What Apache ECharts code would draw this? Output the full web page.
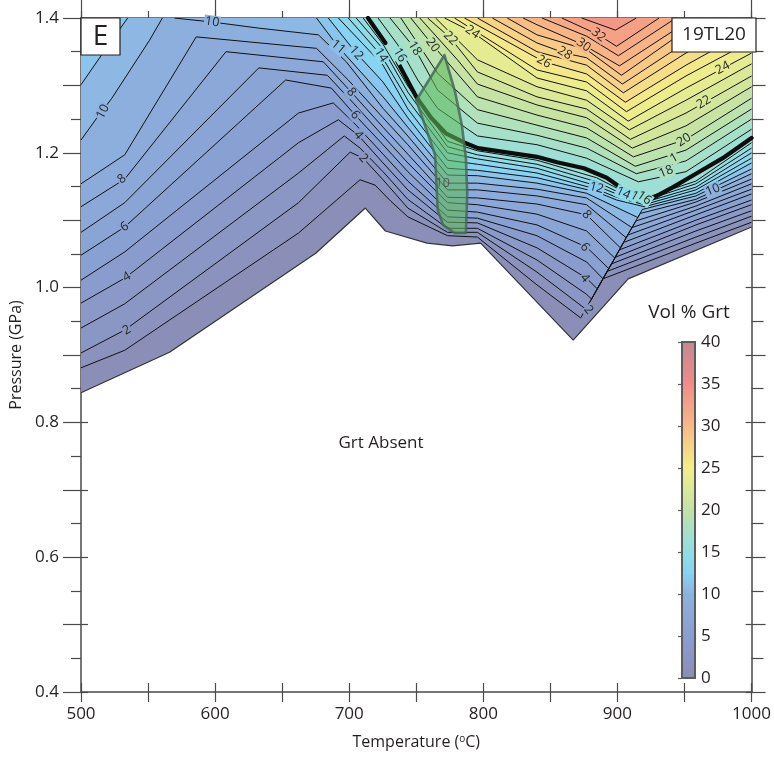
<!DOCTYPE html>
<html><head><meta charset="utf-8">
<script src="https://cdn.jsdelivr.net/npm/echarts@6/dist/echarts.min.js"></script>
<style>html,body{margin:0;padding:0;background:#fff}#c{width:774px;height:758px}</style>
</head><body><div id="c"></div>
<script>
// ---------- data (T in °C, P in GPa) ----------
const tempRange = [500, 1000];
const presRange = [0.4, 1.4];
const colorbarRange = [0, 40];
const colorbarTicks = [0, 5, 10, 15, 20, 25, 30, 35, 40];

const garnetIn = [[500,0.844],[566,0.904],[675,1.051],[712,1.118],[727,1.084],[758,1.066],[777,1.062],[798,1.066],[867,0.922],[908,1.013],[1000,1.090]];

const thickA = [[714,1.400],[727,1.363]];
const thickB = [[736,1.335],[750,1.283],[761,1.252],[772,1.229],[786,1.215],[796,1.207],[840,1.194],[855,1.186],[875,1.177],[892,1.163],[907,1.142]];
const thickC = [[920,1.126],[941.5,1.149],[958.5,1.169],[978.5,1.192],[1000,1.222]];

const greenField = [[771,1.345],[750,1.278],[764,1.197],[766,1.115],[770,1.093],[778.5,1.081],[787,1.081],[788,1.140],[787,1.192],[784,1.241],[779,1.290]];

const c1 = [[500,0.881],[532.6,0.907],[662.2,1.081],[708.1,1.160],[719.3,1.152],[731.1,1.128],[743.7,1.105],[773.3,1.077],[795.6,1.075],[840,1.004],[872.6,0.955],[889.2,1.013],[958.5,1.066],[1000,1.097]];
const c2 = [[500,0.903],[532.6,0.937],[662.2,1.126],[700.7,1.201],[710.4,1.192],[725.2,1.160],[743.7,1.118],[773.3,1.082],[795.6,1.082],[840,1.023],[876.4,0.968],[892.3,1.024],[958.5,1.075],[1000,1.106]];
const c3 = [[500,0.940],[532.6,0.976],[662.2,1.170],[696.3,1.225],[708.1,1.207],[725.2,1.172],[743.7,1.131],[773.3,1.088],[795.6,1.088],[840,1.041],[877,0.990],[880.7,0.983],[895.3,1.035],[958.5,1.084],[1000,1.114]];
const c4 = [[500,0.977],[532.6,1.014],[662.2,1.215],[691.9,1.249],[706.7,1.226],[725.2,1.185],[743.7,1.145],[773.3,1.097],[795.6,1.096],[840,1.059],[877,1.014],[885,0.998],[898.4,1.045],[958.5,1.093],[1000,1.123]];
const c5 = [[500,1.011],[532.6,1.053],[662.2,1.259],[688.1,1.274],[705.2,1.241],[725.2,1.198],[743.7,1.158],[773.3,1.105],[795.6,1.103],[840,1.077],[877,1.038],[889.3,1.013],[901.5,1.056],[958.5,1.100],[1000,1.130]];
const c6 = [[500,1.048],[532.6,1.090],[652.6,1.308],[686.7,1.296],[704.4,1.256],[725.2,1.212],[743.7,1.172],[773.3,1.115],[795.6,1.112],[840,1.093],[877,1.060],[893.6,1.028],[904.6,1.067],[958.5,1.108],[1000,1.139]];
const c7 = [[500,1.082],[532.6,1.126],[632.6,1.326],[683.7,1.315],[703,1.274],[725.2,1.225],[743.7,1.185],[773.3,1.126],[795.6,1.123],[840,1.109],[877,1.084],[897.9,1.044],[907.7,1.078],[958.5,1.115],[1000,1.146]];
const c8 = [[500,1.120],[532.6,1.161],[608.1,1.350],[680.7,1.335],[701.5,1.290],[725.2,1.238],[743.7,1.198],[773.3,1.134],[795.6,1.133],[840,1.124],[877,1.108],[902.2,1.059],[910.7,1.089],[958.5,1.121],[1000,1.154]];
const c9 = [[500,1.154],[532.6,1.197],[585.9,1.372],[675.6,1.355],[699.3,1.308],[725.2,1.252],[743.7,1.212],[773.3,1.145],[795.6,1.145],[840,1.136],[877,1.123],[906.5,1.074],[913.9,1.099],[958.5,1.127],[1000,1.161]];
const c10a = [[500,1.219],[511.9,1.252],[523,1.281],[551.1,1.367],[560.7,1.400]];
const c10b = [[569.6,1.400],[597.8,1.394],[632.6,1.385],[677,1.375],[697.8,1.335],[725.2,1.266],[743.7,1.225],[773.3,1.155],[795.6,1.155],[840,1.146],[877,1.133],[910.8,1.089],[916.9,1.110],[958.5,1.131],[1000,1.169]];
const c11a = [[500,1.301],[516.3,1.348],[534.8,1.400]];
const c11b = [[675.6,1.400],[691.9,1.357],[725.2,1.283],[743.7,1.238],[773.3,1.167],[795.6,1.166],[840,1.155],[877,1.140],[915.2,1.104],[918.6,1.116],[958.5,1.136],[1000,1.176]];
const c12 = [[684.4,1.400],[705.2,1.348],[725.2,1.305],[743.7,1.252],[773.3,1.177],[795.6,1.174],[840,1.163],[884.4,1.142],[899.3,1.130],[920,1.120],[958.5,1.140],[1000,1.185]];
const c13 = [[691.9,1.400],[725.2,1.330],[743.7,1.265],[773.3,1.189],[795.6,1.183],[840,1.170],[884.4,1.146],[899.3,1.134],[920,1.123],[958.5,1.145],[1000,1.192]];
const c14 = [[699.3,1.400],[723.7,1.345],[743.7,1.278],[773.3,1.200],[795.6,1.191],[840,1.177],[884.4,1.151],[899.3,1.139],[919.3,1.126],[958.5,1.149],[1000,1.200]];
const c15 = [[705.2,1.400],[725.2,1.354],[743.7,1.290],[773.3,1.209],[795.6,1.197],[840,1.183],[884.4,1.157],[899.3,1.143],[918.5,1.128],[958.5,1.154],[1000,1.207]];
const c16 = [[710.4,1.400],[725.2,1.361],[743.7,1.299],[773.3,1.217],[795.6,1.203],[840,1.189],[884.4,1.163],[899.3,1.148],[917.8,1.131],[958.5,1.158],[1000,1.215]];
const c17 = [[721.5,1.400],[736.3,1.360],[751.1,1.308],[765.9,1.266],[795.6,1.225],[840,1.212],[877,1.192],[915.6,1.157],[951.1,1.172],[1000,1.235]];
const c18 = [[730.4,1.400],[748.9,1.355],[765.9,1.293],[795.6,1.244],[840,1.226],[877,1.207],[914.1,1.169],[951.1,1.188],[1000,1.250]];
const c19 = [[738.5,1.400],[765.9,1.318],[795.6,1.264],[840,1.241],[877,1.222],[913.3,1.180],[951.1,1.204],[1000,1.265]];
const c20 = [[745.9,1.400],[762.2,1.360],[795.6,1.283],[840,1.256],[877,1.237],[911.9,1.194],[951.1,1.220],[1000,1.281]];
const c21 = [[752.6,1.400],[780.7,1.338],[795.6,1.302],[840,1.271],[877,1.252],[911.1,1.207],[951.1,1.240],[1000,1.298]];
const c22 = [[758.5,1.400],[775.6,1.370],[795.6,1.320],[840,1.283],[877,1.265],[909.6,1.220],[951.1,1.259],[1000,1.314]];
const c23 = [[764.4,1.400],[795.6,1.338],[840,1.298],[877,1.278],[908.9,1.234],[951.1,1.278],[1000,1.332]];
const c24 = [[771.1,1.400],[791.9,1.379],[840,1.311],[877,1.292],[908.1,1.247],[951.1,1.296],[1000,1.348]];
const c25 = [[778.5,1.400],[840,1.323],[877,1.305],[906.7,1.261],[951.1,1.314],[1000,1.366]];
const c26 = [[785.9,1.400],[845.2,1.335],[877,1.317],[905.9,1.275],[951.1,1.330],[1000,1.384]];
const c27 = [[795.6,1.400],[840,1.350],[877,1.330],[904.4,1.289],[951.1,1.348],[998.5,1.400]];
const c28 = [[806.7,1.400],[840,1.363],[860.7,1.348],[877,1.341],[903.7,1.302],[951.1,1.364],[983.7,1.400]];
const c29 = [[817.8,1.400],[840,1.375],[877,1.353],[903,1.315],[951.1,1.382],[967.4,1.400]];
const c30 = [[829.6,1.400],[840,1.390],[874.8,1.360],[901.5,1.329],[956.3,1.400]];
const c31 = [[843.7,1.400],[877,1.373],[900.7,1.344],[943.7,1.400]];
const c32 = [[858.5,1.400],[885.9,1.375],[899.3,1.358],[931.1,1.400]];
const c33 = [[873.3,1.400],[898.5,1.382],[914.1,1.400]];

// isopleth level of each polyline (value is >= level on the upper/left side)
const contourLevels = [0,1,2,3,4,5,6,7,8,9,10,10,11,11,12,13,14,15,16,17,18,19,20,21,22,23,24,25,26,27,28,29,30,31,32,33];
const contourLines = [garnetIn,c1,c2,c3,c4,c5,c6,c7,c8,c9,c10a,c10b,c11a,c11b,c12,c13,c14,c15,c16,c17,c18,c19,c20,c21,c22,c23,c24,c25,c26,c27,c28,c29,c30,c31,c32,c33];

const contourLabels = [
 [516.3,1.261,'10'],[530.4,1.161,'8'],[532.6,1.090,'6'],[534.1,1.016,'4'],[534.1,0.937,'2'],
 [597.8,1.394,'10'],
 [701.5,1.290,'8'],[704.4,1.256,'6'],[706.7,1.226,'4'],[710.4,1.192,'2'],
 [691.9,1.357,'11'],[705.2,1.348,'12'],[723.7,1.345,'14'],[737.8,1.345,'16'],[748.9,1.355,'18'],[762.2,1.360,'20'],[775.6,1.370,'22'],[791.9,1.379,'24'],
 [845.2,1.335,'26'],[860.7,1.348,'28'],[874.8,1.360,'30'],[885.9,1.375,'32'],
 [978.5,1.326,'24'],[964.4,1.275,'22'],[949.6,1.219,'20'],[942.2,1.192,'1'],[936.3,1.172,'18'],[971.1,1.145,'10'],
 [884.4,1.148,'12'],[904.4,1.140,'14'],[912.6,1.136,'1'],[920,1.133,'16'],
 [877,1.108,'8'],[875.6,1.060,'6'],[875.6,1.014,'4'],[878.5,0.967,'2'],
 [769.6,1.155,'10']
];
const contourLabelLevels = [10,8,6,4,2,10,8,6,4,2,11,12,14,16,18,20,22,24,26,28,30,32,24,22,20,19,18,10,12,14,15,16,8,6,4,2,-1];
const contourLabelAngles = [62,38,32,30,30,-8,-50,-50,-50,-50,-40,-48,-58,-60,-58,-55,-45,-35,-28,-30,-35,-38,28,30,32,30,22,22,-15,-25,-30,-35,-50,-50,-50,-50,-3];

// colour scale (Vol % Grt)
const cmapValues = [0,5,10,12.5,15,17.5,20,22.5,25,27.5,30,32.5,35,37.5,40];
const cmapColors = ['#8b8db5','#899ed0','#8db1df','#86d3f4','#8fdee5','#a7e0c8','#c1e2a6','#dbe996','#f3ee89','#f7d386','#f8b985','#f5a186','#f08b89','#dc898c','#c28b8f'];

// ---------- helpers ----------
function hex2rgb(h){return [parseInt(h.substr(1,2),16),parseInt(h.substr(3,2),16),parseInt(h.substr(5,2),16)];}
function colorAt(v){
  if (v <= cmapValues[0]) return cmapColors[0];
  for (let i=1;i<cmapValues.length;i++){
    if (v <= cmapValues[i]){
      const t=(v-cmapValues[i-1])/(cmapValues[i]-cmapValues[i-1]);
      const a=hex2rgb(cmapColors[i-1]), b=hex2rgb(cmapColors[i]);
      return 'rgb('+a.map((x,k)=>Math.round(x+(b[k]-x)*t)).join(',')+')';
    }
  }
  return cmapColors[cmapColors.length-1];
}
const corners = [[tempRange[1],presRange[1]],[tempRange[0],presRange[1]],[tempRange[0],presRange[0]],[tempRange[1],presRange[0]]];
function borderParam(p){
  const u=(p[0]-tempRange[0])/(tempRange[1]-tempRange[0]);
  const v=(p[1]-presRange[0])/(presRange[1]-presRange[0]);
  const e=1e-6;
  if (Math.abs(u-1)<e) return v;
  if (Math.abs(v-1)<e) return 1+(1-u);
  if (Math.abs(u)<e) return 2+(1-v);
  return 3+u;
}
function regionPolygon(pts){
  const sEnd=borderParam(pts[pts.length-1]);
  let target=borderParam(pts[0]);
  if (target<=sEnd) target+=4;
  const out=pts.slice();
  for (let c=1;c<=8;c++){ if (c>sEnd && c<target) out.push(corners[(c-1)%4]); }
  return out;
}

const FONT = "'Open Sans','Noto Sans',sans-serif";
const AX = '#4a4a4a';
const chart = echarts.init(document.getElementById('c'), null, {renderer:'canvas'});

const series = [];
// filled bands (painter's order)
series.push({
  type:'custom', name:'fill', coordinateSystem:'cartesian2d', xAxisIndex:0, yAxisIndex:0, z:1, silent:true,
  data: contourLines.map((l,i)=>({value:[l[0][0], l[0][1], i]})),
  renderItem:function(params, api){
    const i = params.dataIndex;
    const poly = regionPolygon(contourLines[i]).map(p=>api.coord(p));
    return {type:'polygon', shape:{points:poly}, style:{fill:colorAt(contourLevels[i]+0.5), stroke:null}};
  }
});
// isopleth lines
contourLines.forEach((l,i)=>{
  series.push({type:'line', data:l, symbol:'none', silent:true, z: i===0?4:3, animation:false,
    lineStyle:{color: i===0?'#333':'#111', width: i===0?1.2:1}});
});
// thick lines
[thickA, thickB, thickC].forEach(l=>{
  series.push({type:'line', data:l, symbol:'none', silent:true, z:5, lineStyle:{color:'#0d0d0d', width:4.2, cap:'round'}});
});
// green field
series.push({
  type:'custom', coordinateSystem:'cartesian2d', z:6, silent:true,
  data:[{value:[greenField[0][0],greenField[0][1]]}],
  renderItem:function(params, api){
    return {type:'polygon', shape:{points:greenField.map(p=>api.coord(p))},
      style:{fill:'rgba(96,186,92,0.58)', stroke:'rgba(72,104,88,0.85)', lineWidth:2.6, lineJoin:'round'}};
  }
});
// contour labels (custom text elements)
series.push({
  type:'custom', coordinateSystem:'cartesian2d', z:7, silent:true,
  data: contourLabels.map(d=>({value:[d[0],d[1]]})),
  renderItem:function(params, api){
    const i = params.dataIndex, d = contourLabels[i];
    const p = api.coord([d[0], d[1]]);
    const lv = contourLabelLevels[i];
    return {type:'text', x:p[0], y:p[1], rotation: contourLabelAngles[i]*Math.PI/180,
      style:{text:d[2], font:"12.5px 'Open Sans', sans-serif", fill: lv<0 ? '#555' : '#262626',
        align:'center', verticalAlign:'middle',
        backgroundColor: lv<0 ? null : colorAt(lv), padding:[0,1]}};
  }
});
// colour bar
series.push({
  type:'custom', coordinateSystem:'cartesian2d', xAxisIndex:5, yAxisIndex:4, z:5, silent:true,
  data:[{value:[0,colorbarRange[0],colorbarRange[1]]}],
  renderItem:function(params, api){
    const p0 = api.coord([0, colorbarRange[0]]), p1 = api.coord([1, colorbarRange[1]]);
    return {type:'rect', shape:{x:p0[0], y:p1[1], width:p1[0]-p0[0], height:p0[1]-p1[1]},
      style:{fill:{type:'linear', x:0, y:1, x2:0, y2:0,
        colorStops:cmapValues.map((v,i)=>({offset:(v-colorbarRange[0])/(colorbarRange[1]-colorbarRange[0]), color:cmapColors[i]}))},
        stroke:'#5c5c5c', lineWidth:2}};
  }
});

const tickStyle = {color:AX, width:1.2};
const option = {
  animation:false,
  backgroundColor:'#fff',
  grid:[
    {left:81, top:18, width:675, height:674, containLabel:false},
    {left:682, top:342, width:13, height:336, containLabel:false}
  ],
  xAxis:[
    {type:'value', gridIndex:0, position:'bottom', min:tempRange[0], max:tempRange[1], interval:50,
      axisLine:{lineStyle:{color:AX, width:1.5}}, axisTick:{inside:false, length:10, lineStyle:tickStyle},
      axisLabel:{fontSize:17, color:'#231f20', fontFamily:FONT, margin:14, formatter:v=> (v%100===0? String(v):'')},
      splitLine:{show:false},
      name:'{t|Temperature (}{s|o}{t|C)}', nameLocation:'middle', nameGap:42,
      nameTextStyle:{rich:{t:{fontSize:16, color:'#231f20', fontFamily:FONT}, s:{fontSize:10, color:'#231f20', fontFamily:FONT, verticalAlign:'top', padding:[0,0,6,0]}}}},
    {type:'value', gridIndex:0, position:'bottom', min:tempRange[0], max:tempRange[1], interval:50,
      axisLine:{show:false}, axisTick:{inside:true, length:9, lineStyle:tickStyle}, axisLabel:{show:false}, splitLine:{show:false}},
    {type:'value', gridIndex:0, position:'top', min:tempRange[0], max:tempRange[1], interval:100,
      axisLine:{lineStyle:{color:AX, width:1.5}}, axisTick:{inside:false, length:18, lineStyle:tickStyle}, axisLabel:{show:false}, splitLine:{show:false}},
    {type:'value', gridIndex:0, position:'top', min:tempRange[0], max:tempRange[1], interval:50,
      axisLine:{show:false}, axisTick:{inside:false, length:7, lineStyle:tickStyle}, axisLabel:{show:false}, splitLine:{show:false}},
    {type:'value', gridIndex:0, position:'top', min:tempRange[0], max:tempRange[1], interval:50,
      axisLine:{show:false}, axisTick:{inside:true, length:7, lineStyle:tickStyle}, axisLabel:{show:false}, splitLine:{show:false}},
    {type:'value', gridIndex:1, min:0, max:1, show:false}
  ],
  yAxis:[
    {type:'value', gridIndex:0, position:'left', min:presRange[0], max:presRange[1], interval:0.1,
      axisLine:{lineStyle:{color:AX, width:1.5}}, axisTick:{inside:false, length:18, lineStyle:tickStyle},
      minorTick:{show:true, splitNumber:2, length:10, lineStyle:tickStyle},
      axisLabel:{fontSize:17, color:'#231f20', fontFamily:FONT, margin:22, formatter:v=> (Math.round(v*10)%2===0? v.toFixed(1):'')},
      splitLine:{show:false}, minorSplitLine:{show:false},
      name:'Pressure (GPa)', nameLocation:'middle', nameGap:56, nameRotate:90,
      nameTextStyle:{fontSize:16, color:'#231f20', fontFamily:FONT}},
    {type:'value', gridIndex:0, position:'left', min:presRange[0], max:presRange[1], interval:0.1,
      axisLine:{show:false}, axisTick:{inside:true, length:7, lineStyle:tickStyle}, axisLabel:{show:false}, splitLine:{show:false}},
    {type:'value', gridIndex:0, position:'right', min:presRange[0], max:presRange[1], interval:0.1,
      axisLine:{lineStyle:{color:AX, width:1.5}}, axisTick:{inside:false, length:14, lineStyle:tickStyle},
      minorTick:{show:true, splitNumber:2, length:12, lineStyle:tickStyle},
      axisLabel:{show:false}, splitLine:{show:false}},
    {type:'value', gridIndex:0, position:'right', min:presRange[0], max:presRange[1], interval:0.1,
      axisLine:{show:false}, axisTick:{inside:true, length:6, lineStyle:tickStyle}, axisLabel:{show:false}, splitLine:{show:false}},
    {type:'value', gridIndex:1, position:'right', min:colorbarRange[0], max:colorbarRange[1], interval:5,
      axisLine:{show:false}, axisTick:{show:true, inside:true, length:4, lineStyle:{color:'#5c5c5c', width:1.2}},
      axisLabel:{fontSize:17, color:'#231f20', fontFamily:FONT, margin:6}, splitLine:{show:false}}
  ],
  graphic:[
    {type:'rect', z:100, shape:{x:81, y:18, width:39, height:37}, style:{fill:'#fff', stroke:'#231f20', lineWidth:1.2}},
    {type:'text', z:101, x:100.5, y:37, style:{text:'E', font:"28px 'Open Sans', sans-serif", fill:'#231f20', align:'center', verticalAlign:'middle'}},
    {type:'rect', z:100, shape:{x:672, y:18, width:84, height:34}, style:{fill:'#fff', stroke:'#231f20', lineWidth:1.2}},
    {type:'text', z:101, x:714, y:35, style:{text:'19TL20', font:"19px 'Open Sans', sans-serif", fill:'#231f20', align:'center', verticalAlign:'middle'}},
    {type:'text', z:101, x:689, y:313, style:{text:'Vol % Grt', font:"19px 'Open Sans', sans-serif", fill:'#231f20', align:'center', verticalAlign:'middle'}},
    {type:'text', z:101, x:381, y:443, style:{text:'Grt Absent', font:"17px 'Open Sans', sans-serif", fill:'#231f20', align:'center', verticalAlign:'middle'}}
  ],
  series: series
};
chart.setOption(option);
</script></body></html>
